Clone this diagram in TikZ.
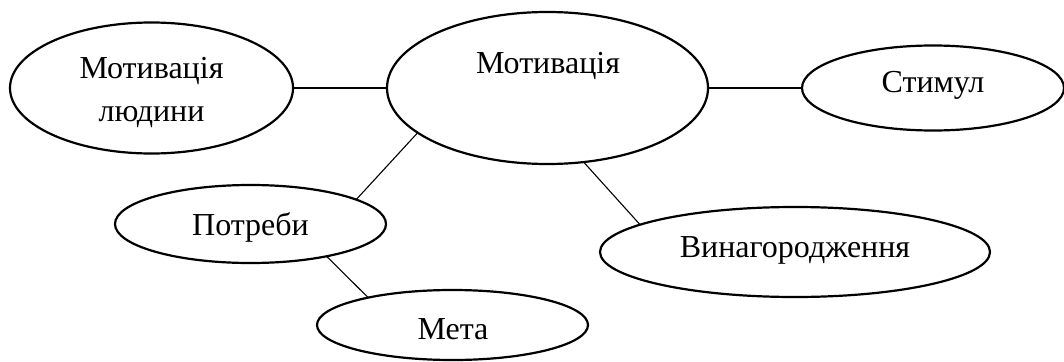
\documentclass[tikz,border=0pt]{standalone}
\usepackage{fontspec}
\setmainfont{Liberation Serif}
\usetikzlibrary{shapes.geometric}
\begin{document}
\begin{tikzpicture}[x=1pt,y=-1pt,
  oval/.style={draw,ellipse,line width=2.2pt,inner sep=0pt,outer sep=0pt},
  lbl/.style={font=\fontsize{32}{43}\selectfont,align=center,inner sep=0pt},
  link/.style={line width=1.1pt}]
\useasboundingbox (0,0) rectangle (1064,361);
\node[oval,minimum width=283,minimum height=131] (mh) at (151.5,88) {};
\node[oval,minimum width=321,minimum height=152] (mot) at (547.5,88) {};
\node[oval,minimum width=262,minimum height=85] (stim) at (933,88) {};
\node[oval,minimum width=271,minimum height=78] (potr) at (250.5,224) {};
\node[oval,minimum width=390,minimum height=90] (vin) at (795,252) {};
\node[oval,minimum width=271,minimum height=70] (meta) at (452.5,325) {};
\node[lbl] (tmh) at (151.5,92) {Мотивація\\людини};
\node[lbl] (tmot) at (548,66) {Мотивація};
\node[lbl] (tstim) at (933,85) {Стимул};
\node[lbl] (tpotr) at (250.5,227) {Потреби};
\node[lbl] (tvin) at (795,250) {Винагородження};
\node[lbl] (tmeta) at (453,329) {Мета};
\draw[link] (mh.east) -- (mot.west);
\draw[link] (mot.east) -- (stim.west);
\draw[link] (mot.199.6) -- (potr.13.7);
\draw[link] (mot.296.3) -- (vin.170.3);
\draw[link] (potr.337.5) -- (meta.162.8);
\end{tikzpicture}
\end{document}
